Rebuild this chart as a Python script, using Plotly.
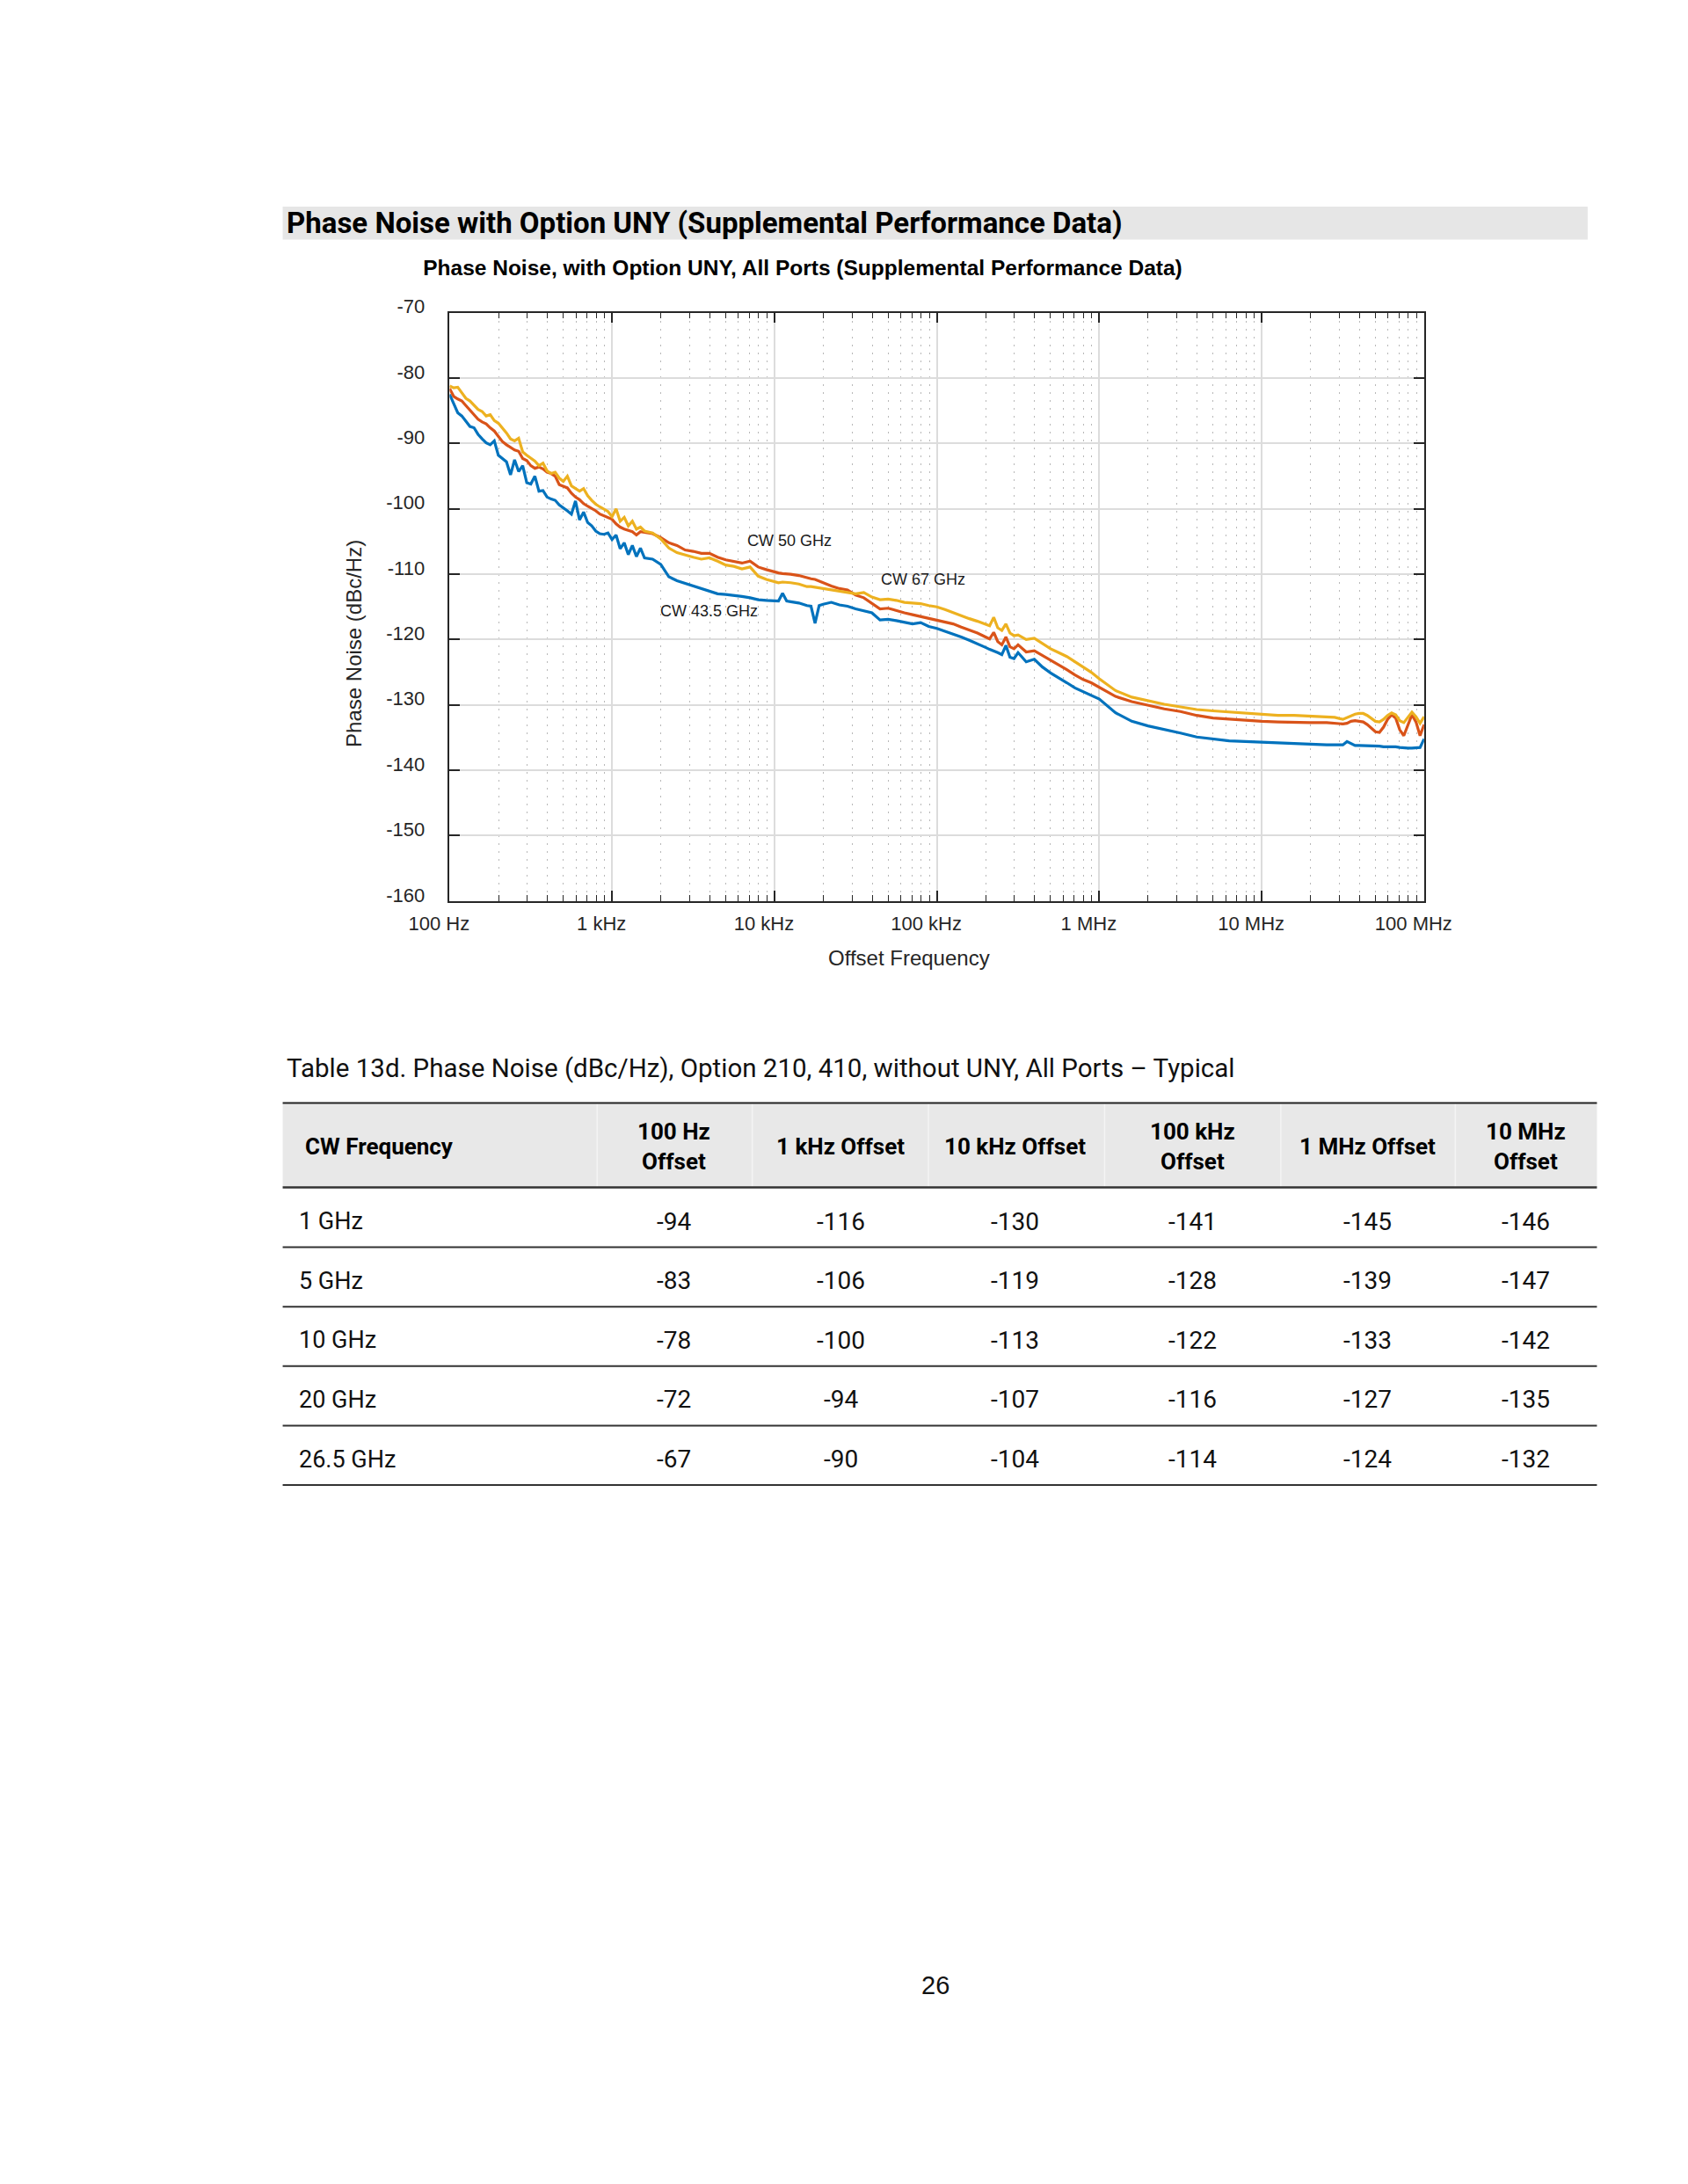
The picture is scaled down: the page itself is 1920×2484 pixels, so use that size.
import plotly.graph_objects as go

# ---------------- data ----------------
freq_hz = [
    100, 105.9, 112.2, 118.9, 125.9, 133.4, 141.3, 149.6, 158.5, 167.9,
    177.8, 188.4, 199.5, 211.3, 223.9, 237.1, 251.2, 266.1, 281.8, 298.5,
    316.2, 335.0, 354.8, 375.8, 398.1, 421.7, 446.7, 473.2, 501.2, 530.9,
    562.3, 595.7, 631.0, 668.3, 707.9, 749.9, 794.3, 841.4, 891.3, 944.1,
    1000, 1059, 1122, 1189, 1259, 1334, 1413, 1496, 1585,
    1778, 1995, 2239, 2512, 2818, 3162, 3548, 3981, 4467, 5012,
    5623, 6310, 7079, 7943, 8913, 10000,
    10590, 11220, 11890, 12590, 14130, 15850, 16790, 17780, 18840, 19950,
    22390, 25120, 28180, 31620, 35480, 39810, 44670, 50120, 56230, 63100,
    70790, 79430, 89130, 100000,
    112200, 125900, 141300, 158500, 177800, 199500,
    211300, 223900, 237100, 251200, 266100, 281800, 298500, 316200,
    354800, 398100, 446700, 501200, 562300, 631000, 707900, 794300, 891300, 1000000,
    1.259e6, 1.585e6, 1.995e6, 2.512e6, 3.162e6, 3.981e6, 5.012e6, 6.310e6, 7.943e6, 1.0e7,
    1.259e7, 1.585e7, 1.995e7, 2.512e7,
    2.818e7, 3.162e7, 3.350e7, 3.548e7, 3.758e7, 3.981e7, 4.217e7, 4.467e7, 4.732e7, 5.012e7,
    5.309e7, 5.623e7, 5.957e7, 6.310e7, 6.683e7, 7.079e7, 7.499e7, 7.943e7, 8.414e7, 8.913e7,
    9.441e7, 1.0e8,
]

cw_43_5_ghz = [
    -82.5, -84.0, -85.3, -85.8, -86.6, -87.4, -87.6, -88.6, -89.3, -89.9,
    -90.2, -89.6, -91.8, -92.3, -92.8, -94.8, -92.5, -94.3, -93.4, -96.0,
    -96.2, -95.0, -97.3, -97.2, -98.2, -98.5, -98.7, -99.4, -99.8, -100.3,
    -100.8, -98.8, -101.7, -100.5, -102.1, -102.6, -103.4, -103.8, -103.9, -103.7,
    -104.7, -104.0, -106.1, -105.2, -107.0, -105.6, -107.3, -106.0, -107.5,
    -107.7, -108.5, -110.4, -111.0, -111.4, -111.9, -112.3, -112.7, -113.0, -113.1,
    -113.2, -113.4, -113.6, -113.9, -114.0, -114.0,
    -114.1, -112.9, -114.1, -114.2, -114.4, -114.8, -114.9, -117.5, -114.8, -114.6,
    -114.3, -114.7, -114.9, -115.3, -115.6, -115.9, -117.0, -116.9, -117.1, -117.3,
    -117.6, -117.4, -118.0, -118.3,
    -118.7, -119.2, -119.6, -120.1, -120.6, -121.2,
    -121.5, -121.7, -122.0, -122.3, -120.9, -122.7, -122.9, -122.0,
    -123.4, -123.0, -124.2, -125.1, -125.8, -126.6, -127.4, -128.0, -128.5, -129.1,
    -131.2, -132.5, -133.2, -133.7, -134.3, -134.9, -135.2, -135.5, -135.6, -135.7,
    -135.9, -136.0, -136.1, -136.1,
    -136.1, -136.1, -135.6, -135.9, -136.2, -136.2, -136.2, -136.3, -136.3, -136.3,
    -136.3, -136.4, -136.4, -136.3, -136.4, -136.5, -136.6, -136.6, -136.6, -136.5,
    -136.5, -135.2,
]

cw_50_ghz = [
    -81.6, -82.8, -83.2, -83.5, -84.2, -84.9, -85.5, -86.3, -86.7, -87.0,
    -87.6, -88.1, -88.9, -89.7, -90.2, -90.6, -91.0, -91.2, -92.3, -92.6,
    -93.4, -93.8, -93.6, -93.9, -94.4, -94.6, -95.0, -96.3, -96.5, -96.8,
    -97.6, -98.2, -98.6, -99.2, -99.6, -99.9, -100.3, -100.8, -101.1, -101.3,
    -101.6, -102.3, -102.8, -103.1, -103.3, -103.5, -104.0, -103.5, -103.6,
    -103.8, -104.4, -105.2, -105.6, -106.3, -106.5, -106.8, -106.8, -107.4, -107.8,
    -108.1, -108.3, -108.0, -108.9, -109.3, -109.7,
    -109.8, -109.9, -109.9, -110.0, -110.2, -110.6, -110.7, -110.8, -111.1, -111.3,
    -111.8, -112.2, -112.4, -113.2, -113.6, -114.5, -115.3, -115.2, -115.6, -115.9,
    -116.2, -116.5, -116.8, -117.0,
    -117.3, -117.6, -118.1, -118.5, -119.0, -119.6,
    -119.9, -118.9, -120.3, -120.8, -119.6, -121.1, -121.4, -120.8,
    -121.9, -121.7, -122.4, -123.1, -123.8, -124.6, -125.4, -126.1, -126.6, -127.3,
    -128.7, -129.5, -130.1, -130.6, -131.0, -131.6, -132.0, -132.2, -132.4, -132.5,
    -132.6, -132.7, -132.7, -132.7,
    -132.8, -132.9, -132.8, -132.5, -132.4, -132.5, -132.6, -133.0, -133.6, -134.1,
    -134.2, -133.4, -132.2, -131.5, -132.0, -133.8, -134.7, -133.2, -131.5, -132.6,
    -134.7, -133.0,
]

cw_67_ghz = [
    -81.2, -81.5, -81.4, -82.3, -83.1, -83.5, -84.2, -84.8, -85.1, -85.8,
    -85.6, -86.5, -86.9, -87.6, -88.4, -89.3, -89.6, -89.2, -91.3, -91.8,
    -92.3, -92.7, -93.4, -93.0, -94.2, -94.6, -94.4, -95.3, -95.8, -95.0,
    -96.5, -96.9, -97.3, -96.9, -98.0, -98.7, -99.3, -99.7, -100.1, -100.4,
    -101.2, -100.0, -101.9, -101.3, -102.6, -101.9, -103.1, -102.8, -103.4,
    -103.7, -104.6, -106.0, -106.7, -107.1, -107.4, -107.7, -107.5, -108.0, -108.6,
    -108.8, -109.2, -108.9, -110.3, -110.8, -111.2,
    -111.3, -111.2, -111.2, -111.3, -111.5, -111.9, -111.9, -112.0, -112.1, -112.2,
    -112.5, -112.6, -112.9, -113.0, -112.8, -113.5, -113.9, -113.8, -114.0, -114.3,
    -114.4, -114.5, -114.8, -115.0,
    -115.4, -115.9, -116.3, -116.8, -117.2, -117.6,
    -117.9, -116.6, -118.2, -118.6, -117.6, -119.0, -119.4, -119.3,
    -120.0, -119.8, -120.6, -121.4, -122.0, -122.6, -123.4, -124.2, -125.0, -126.0,
    -127.8, -128.8, -129.4, -129.9, -130.3, -130.7, -130.9, -131.1, -131.3, -131.5,
    -131.6, -131.6, -131.7, -131.8,
    -131.9, -132.2, -131.9, -131.6, -131.4, -131.3, -131.3, -131.6, -132.1, -132.5,
    -132.6, -132.2, -131.6, -131.2, -131.5, -132.4, -132.7, -131.9, -131.1, -131.8,
    -132.8, -131.8,
]

series_names = ["CW 43.5 GHz", "CW 50 GHz", "CW 67 GHz"]
series_colors = ["#0072BD", "#D95319", "#EDB120"]

x_tick_vals = [1e2, 1e3, 1e4, 1e5, 1e6, 1e7, 1e8]
x_tick_text = ["100 Hz", "1 kHz", "10 kHz", "100 kHz", "1 MHz", "10 MHz", "100 MHz"]
y_tick_vals = [-160, -150, -140, -130, -120, -110, -100, -90, -80, -70]
y_tick_text = ["-160", "-150", "-140", "-130", "-120", "-110", "-100", "-90", "-80", "-70"]

# curve labels (log10 Hz for x because the axis is logarithmic)
label_text = ["CW 50 GHz", "CW 67 GHz", "CW 43.5 GHz"]
label_logx = [4.092, 4.914, 3.599]
label_y = [-104.9, -110.8, -115.7]

# table
table_caption = "Table 13d. Phase Noise (dBc/Hz), Option 210, 410, without UNY, All Ports \u2013 Typical"
table_header = ["CW Frequency", "100 Hz<br>Offset", "1 kHz Offset", "10 kHz Offset",
                "100 kHz<br>Offset", "1 MHz Offset", "10 MHz<br>Offset"]
cw_frequency = ["1 GHz", "5 GHz", "10 GHz", "20 GHz", "26.5 GHz"]
pn_100hz = [-94, -83, -78, -72, -67]
pn_1khz = [-116, -106, -100, -94, -90]
pn_10khz = [-130, -119, -113, -107, -104]
pn_100khz = [-141, -128, -122, -116, -114]
pn_1mhz = [-145, -139, -133, -127, -124]
pn_10mhz = [-146, -147, -142, -135, -132]

assert len(freq_hz) == len(cw_43_5_ghz) == len(cw_50_ghz) == len(cw_67_ghz), (
    len(freq_hz), len(cw_43_5_ghz), len(cw_50_ghz), len(cw_67_ghz))

# ---------------- page geometry (pixels of the 1920x2484 page) ----------------
W, H = 1920, 2484
def px(x):
    return x / W
def py(y):
    return 1 - y / H

PLOT_L, PLOT_R, PLOT_T, PLOT_B = 476, 1632, 332, 1008
AX = "#262626"
CHART_FONT = "Liberation Sans, Arial, sans-serif"
PAGE_FONT = "Roboto, Noto Sans, sans-serif"

fig = go.Figure()
for name, vals, col in zip(series_names, [cw_43_5_ghz, cw_50_ghz, cw_67_ghz], series_colors):
    fig.add_trace(go.Scatter(x=freq_hz, y=vals, mode="lines", name=name,
                             line=dict(color=col, width=3.2), showlegend=False))

minor_vals = [m * 10 ** d for d in range(2, 8) for m in range(2, 10)]

fig.update_xaxes(
    type="log", range=[2, 8], domain=[px(PLOT_L), px(PLOT_R)],
    tickvals=x_tick_vals, ticktext=x_tick_text,
    ticks="inside", ticklen=12, tickwidth=1.5, tickcolor=AX,
    showline=True, linecolor=AX, linewidth=1.6, mirror="allticks",
    showgrid=True, gridcolor="#dcdcdc", gridwidth=1.5,
    zeroline=False,
    tickfont=dict(family=CHART_FONT, size=22, color=AX),
    ticklabelstandoff=5, ticklabelshift=-12,
    minor=dict(tickvals=minor_vals, ticks="inside", ticklen=7, tickwidth=1.2,
               tickcolor=AX, showgrid=True, gridcolor="#b8b8b8", gridwidth=1,
               griddash="2px,7px"),
)
fig.update_yaxes(
    range=[-160, -70], domain=[py(PLOT_B), py(PLOT_T)],
    tickvals=y_tick_vals, ticktext=y_tick_text,
    ticks="inside", ticklen=12, tickwidth=1.5, tickcolor=AX,
    showline=True, linecolor=AX, linewidth=1.6, mirror="allticks",
    showgrid=True, gridcolor="#dcdcdc", gridwidth=1.5,
    zeroline=False,
    tickfont=dict(family=CHART_FONT, size=22, color=AX),
    ticklabelstandoff=22, ticklabelshift=-7,
)

annotations = []
# curve labels
for t, lx, ly in zip(label_text, label_logx, label_y):
    annotations.append(dict(x=lx, y=ly, xref="x", yref="y", text=t, showarrow=False,
                            font=dict(family=CHART_FONT, size=18, color="#1a1a1a"),
                            xanchor="center", yanchor="middle"))
# axis titles
annotations.append(dict(x=px(1021), y=py(1073), xref="paper", yref="paper",
                        text="Offset Frequency", showarrow=False,
                        font=dict(family=CHART_FONT, size=24, color=AX),
                        xanchor="center", yanchor="middle"))
annotations.append(dict(x=px(363), y=py(712), xref="paper", yref="paper",
                        text="Phase Noise (dBc/Hz)", showarrow=False, textangle=-90,
                        font=dict(family=CHART_FONT, size=24, color=AX),
                        xanchor="center", yanchor="middle"))

# page texts
annotations.append(dict(x=px(281), y=py(229), xref="paper", yref="paper",
                        text="<b>Phase Noise with Option UNY (Supplemental Performance Data)</b>",
                        showarrow=False, font=dict(family=PAGE_FONT, size=33, color="#000"),
                        xanchor="left", yanchor="middle"))
annotations.append(dict(x=px(281), y=py(1200), xref="paper", yref="paper",
                        text=table_caption, showarrow=False,
                        font=dict(family=PAGE_FONT, size=29.5, color="#111"),
                        xanchor="left", yanchor="middle"))

col_centers = [None, 742, 940, 1147, 1357, 1565, 1753]
for i, h in enumerate(table_header):
    if i == 0:
        annotations.append(dict(x=px(302), y=py(1290), xref="paper", yref="paper",
                                text="<b>" + h + "</b>", showarrow=False,
                                font=dict(family=PAGE_FONT, size=26, color="#000"),
                                xanchor="left", yanchor="middle"))
    else:
        txt = "<br>".join("<b>" + part + "</b>" for part in h.split("<br>"))
        annotations.append(dict(x=px(col_centers[i]), y=py(1290), xref="paper", yref="paper",
                                text=txt, showarrow=False,
                                font=dict(family=PAGE_FONT, size=26, color="#000"),
                                xanchor="center", yanchor="middle", align="center"))

row_pitch = 68.3
columns = [pn_100hz, pn_1khz, pn_10khz, pn_100khz, pn_1mhz, pn_10mhz]
for r, cw in enumerate(cw_frequency):
    yc = 1376 + r * row_pitch
    annotations.append(dict(x=px(295), y=py(yc), xref="paper", yref="paper",
                            text=cw, showarrow=False,
                            font=dict(family=PAGE_FONT, size=27, color="#111"),
                            xanchor="left", yanchor="middle"))
    for c, col in enumerate(columns):
        annotations.append(dict(x=px(col_centers[c + 1]), y=py(yc), xref="paper", yref="paper",
                                text=str(col[r]), showarrow=False,
                                font=dict(family=PAGE_FONT, size=28, color="#111"),
                                xanchor="center", yanchor="middle"))

annotations.append(dict(x=px(1052), y=py(2254), xref="paper", yref="paper",
                        text="26", showarrow=False,
                        font=dict(family=CHART_FONT, size=29, color="#111"),
                        xanchor="center", yanchor="middle"))

shapes = []
# section band
shapes.append(dict(type="rect", xref="paper", yref="paper", x0=px(278), x1=px(1826),
                   y0=py(248), y1=py(210), fillcolor="#e6e6e6", line=dict(width=0), layer="below"))
# table header
shapes.append(dict(type="rect", xref="paper", yref="paper", x0=px(278), x1=px(1837),
                   y0=py(1337), y1=py(1240), fillcolor="#e8e8e8", line=dict(width=0), layer="below"))
for xb in [651, 835, 1044, 1253, 1462, 1669]:
    shapes.append(dict(type="line", xref="paper", yref="paper", x0=px(xb), x1=px(xb),
                       y0=py(1336), y1=py(1241), line=dict(color="#f4f4f4", width=1.5), layer="below"))
shapes.append(dict(type="line", xref="paper", yref="paper", x0=px(278), x1=px(1837),
                   y0=py(1240), y1=py(1240), line=dict(color="#222", width=2)))
shapes.append(dict(type="line", xref="paper", yref="paper", x0=px(278), x1=px(1837),
                   y0=py(1337), y1=py(1337), line=dict(color="#333", width=2.5)))
for r in range(len(cw_frequency)):
    yl = 1405.7 + r * row_pitch
    shapes.append(dict(type="line", xref="paper", yref="paper", x0=px(278), x1=px(1837),
                       y0=py(yl), y1=py(yl), line=dict(color="#333", width=2)))

fig.update_layout(
    width=W, height=H,
    margin=dict(l=0, r=0, t=0, b=0),
    paper_bgcolor="white", plot_bgcolor="white",
    title=dict(text="<b>Phase Noise, with Option UNY, All Ports (Supplemental Performance Data)</b>",
               x=905 / W, y=py(296), xanchor="center", yanchor="middle",
               font=dict(family=CHART_FONT, size=24.5, color="#000")),
    annotations=annotations,
    shapes=shapes,
    showlegend=False,
)

fig.write_html("out.html")
